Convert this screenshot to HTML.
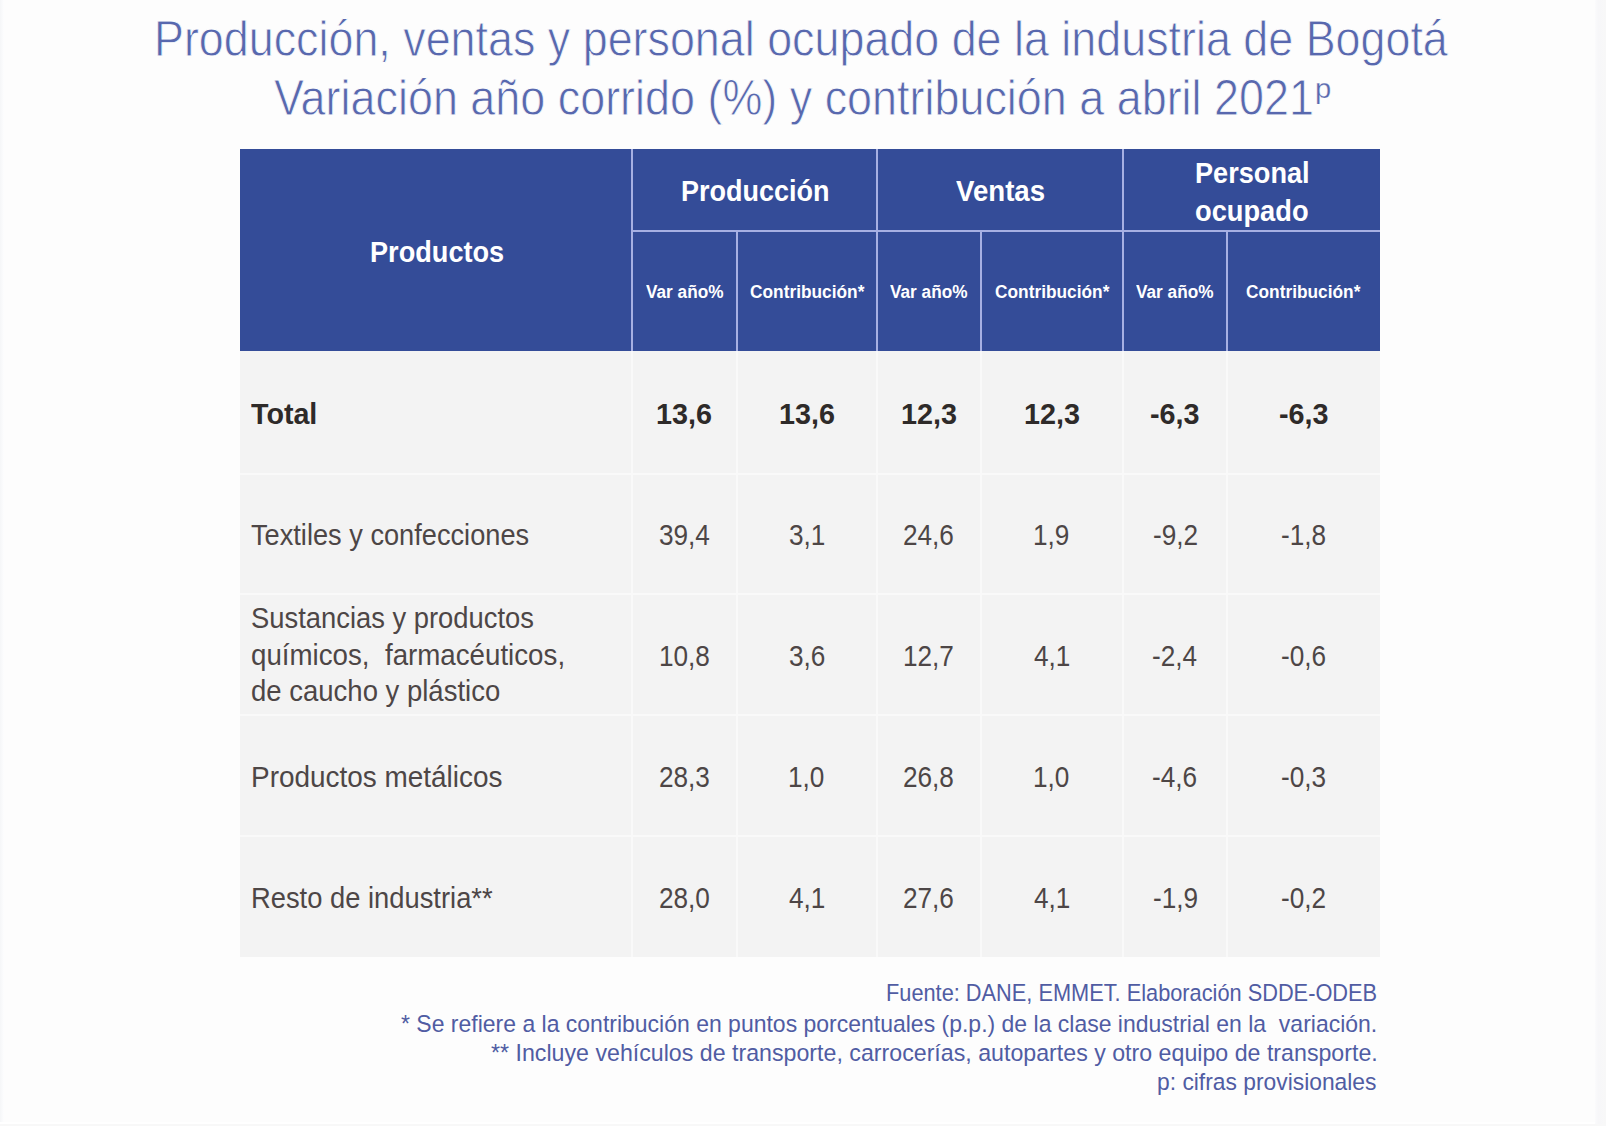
<!DOCTYPE html>
<html><head><meta charset="utf-8"><title>Producción, ventas y personal ocupado de la industria de Bogotá</title>
<style>
html,body{margin:0;padding:0;}
body{width:1606px;height:1126px;position:relative;overflow:hidden;background:#fdfdfd;font-family:"Liberation Sans",Arial,sans-serif;}
.t{position:absolute;white-space:nowrap;transform-origin:0 0;font-weight:400;}
.b{font-weight:700;}
</style></head><body>
<div style="position:absolute;left:240px;top:149px;width:1140px;height:202px;background:#344c98"></div>
<div style="position:absolute;left:240px;top:351px;width:1140px;height:606px;background:#f3f3f3"></div>
<div style="position:absolute;left:631px;top:149px;width:2px;height:202px;background:#a7b0e3"></div>
<div style="position:absolute;left:736px;top:230px;width:2px;height:121px;background:#a7b0e3"></div>
<div style="position:absolute;left:876px;top:149px;width:2px;height:202px;background:#a7b0e3"></div>
<div style="position:absolute;left:980px;top:230px;width:2px;height:121px;background:#a7b0e3"></div>
<div style="position:absolute;left:1122px;top:149px;width:2px;height:202px;background:#a7b0e3"></div>
<div style="position:absolute;left:1226px;top:230px;width:2px;height:121px;background:#a7b0e3"></div>
<div style="position:absolute;left:632px;top:230px;width:748px;height:2px;background:#a7b0e3"></div>
<div style="position:absolute;left:631px;top:351px;width:2px;height:606px;background:#f9f9f9"></div>
<div style="position:absolute;left:736px;top:351px;width:2px;height:606px;background:#f9f9f9"></div>
<div style="position:absolute;left:876px;top:351px;width:2px;height:606px;background:#f9f9f9"></div>
<div style="position:absolute;left:980px;top:351px;width:2px;height:606px;background:#f9f9f9"></div>
<div style="position:absolute;left:1122px;top:351px;width:2px;height:606px;background:#f9f9f9"></div>
<div style="position:absolute;left:1226px;top:351px;width:2px;height:606px;background:#f9f9f9"></div>
<div style="position:absolute;left:240px;top:473px;width:1140px;height:2px;background:#f9f9f9"></div>
<div style="position:absolute;left:240px;top:593px;width:1140px;height:2px;background:#f9f9f9"></div>
<div style="position:absolute;left:240px;top:714px;width:1140px;height:2px;background:#f9f9f9"></div>
<div style="position:absolute;left:240px;top:835px;width:1140px;height:2px;background:#f9f9f9"></div>
<div style="position:absolute;left:0;top:0;width:4px;height:1126px;background:linear-gradient(to right,#f5f6f8,#f9fafb 50%,#fdfdfe)"></div>
<div style="position:absolute;left:0;top:1122px;width:1595px;height:2px;background:#fff"></div>
<div style="position:absolute;left:1595px;top:0;width:11px;height:1126px;background:linear-gradient(to right,#fbfbfc,#f7f7f9 30%,#f8f8f8)"></div>
<div style="position:absolute;left:0;top:1124px;width:1606px;height:2px;background:#f8f8f8"></div>
<div class="t" style="left:154.03px;top:13.66px;font-size:50.29px;line-height:50.29px;transform:scaleX(0.8918);color:#5868ae;-webkit-text-stroke:0.8px #fdfdfd;">Producción, ventas y personal ocupado de la industria de Bogotá</div>
<div class="t" style="left:274.08px;top:72.66px;font-size:50.29px;line-height:50.29px;transform:scaleX(0.8930);color:#5868ae;-webkit-text-stroke:0.8px #fdfdfd;">Variación año corrido (%) y contribución a abril 2021</div>
<div class="t" style="left:1315.15px;top:74.69px;font-size:27.63px;line-height:27.63px;transform:scaleX(1.0560);color:#5868ae;-webkit-text-stroke:0.25px #fdfdfd;">p</div>
<div class="t b" style="left:369.93px;top:237.77px;font-size:29.07px;line-height:29.07px;transform:scaleX(0.9338);color:#fff;">Productos</div>
<div class="t b" style="left:680.87px;top:175.75px;font-size:29.51px;line-height:29.51px;transform:scaleX(0.9148);color:#fff;">Producción</div>
<div class="t b" style="left:955.87px;top:175.94px;font-size:29.51px;line-height:29.51px;transform:scaleX(0.9365);color:#fff;">Ventas</div>
<div class="t b" style="left:1194.76px;top:158.34px;font-size:29.51px;line-height:29.51px;transform:scaleX(0.9201);color:#fff;">Personal</div>
<div class="t b" style="left:1194.54px;top:195.55px;font-size:29.51px;line-height:29.51px;transform:scaleX(0.9242);color:#fff;">ocupado</div>
<div class="t b" style="left:645.77px;top:283.27px;font-size:18.46px;line-height:18.46px;transform:scaleX(0.9333);color:#fff;">Var año%</div>
<div class="t b" style="left:749.50px;top:283.27px;font-size:18.46px;line-height:18.46px;transform:scaleX(0.9388);color:#fff;">Contribución*</div>
<div class="t b" style="left:890.27px;top:283.27px;font-size:18.46px;line-height:18.46px;transform:scaleX(0.9333);color:#fff;">Var año%</div>
<div class="t b" style="left:994.50px;top:283.27px;font-size:18.46px;line-height:18.46px;transform:scaleX(0.9388);color:#fff;">Contribución*</div>
<div class="t b" style="left:1136.27px;top:283.27px;font-size:18.46px;line-height:18.46px;transform:scaleX(0.9333);color:#fff;">Var año%</div>
<div class="t b" style="left:1246.00px;top:283.27px;font-size:18.46px;line-height:18.46px;transform:scaleX(0.9388);color:#fff;">Contribución*</div>
<div class="t b" style="left:251.25px;top:400.26px;font-size:29.07px;line-height:29.07px;transform:scaleX(0.9862);color:#2e2a29;">Total</div>
<div class="t b" style="left:656.16px;top:400.26px;font-size:29.07px;line-height:29.07px;transform:scaleX(0.9900);color:#2e2a29;">13,6</div>
<div class="t b" style="left:778.66px;top:400.26px;font-size:29.07px;line-height:29.07px;transform:scaleX(0.9900);color:#2e2a29;">13,6</div>
<div class="t b" style="left:900.66px;top:400.26px;font-size:29.07px;line-height:29.07px;transform:scaleX(0.9900);color:#2e2a29;">12,3</div>
<div class="t b" style="left:1023.66px;top:400.26px;font-size:29.07px;line-height:29.07px;transform:scaleX(0.9900);color:#2e2a29;">12,3</div>
<div class="t b" style="left:1150.25px;top:400.26px;font-size:29.07px;line-height:29.07px;transform:scaleX(0.9900);color:#2e2a29;">-6,3</div>
<div class="t b" style="left:1278.75px;top:400.26px;font-size:29.07px;line-height:29.07px;transform:scaleX(0.9900);color:#2e2a29;">-6,3</div>
<div class="t" style="left:251.40px;top:520.67px;font-size:29.07px;line-height:29.07px;transform:scaleX(0.9357);color:#4d4646;">Textiles y confecciones</div>
<div class="t" style="left:658.85px;top:520.67px;font-size:29.07px;line-height:29.07px;transform:scaleX(0.9000);color:#4d4646;">39,4</div>
<div class="t" style="left:788.89px;top:520.67px;font-size:29.07px;line-height:29.07px;transform:scaleX(0.9000);color:#4d4646;">3,1</div>
<div class="t" style="left:903.35px;top:520.67px;font-size:29.07px;line-height:29.07px;transform:scaleX(0.9000);color:#4d4646;">24,6</div>
<div class="t" style="left:1033.44px;top:520.67px;font-size:29.07px;line-height:29.07px;transform:scaleX(0.9000);color:#4d4646;">1,9</div>
<div class="t" style="left:1152.50px;top:520.67px;font-size:29.07px;line-height:29.07px;transform:scaleX(0.9000);color:#4d4646;">-9,2</div>
<div class="t" style="left:1280.89px;top:520.67px;font-size:29.07px;line-height:29.07px;transform:scaleX(0.9000);color:#4d4646;">-1,8</div>
<div class="t" style="left:251.12px;top:604.47px;font-size:29.07px;line-height:29.07px;transform:scaleX(0.9418);color:#4d4646;">Sustancias y productos</div>
<div class="t" style="left:251.11px;top:640.97px;font-size:29.07px;line-height:29.07px;transform:scaleX(0.9532);color:#4d4646;">químicos,&nbsp; farmacéuticos,</div>
<div class="t" style="left:251.12px;top:676.97px;font-size:29.07px;line-height:29.07px;transform:scaleX(0.9464);color:#4d4646;">de caucho y plástico</div>
<div class="t" style="left:658.51px;top:641.87px;font-size:29.07px;line-height:29.07px;transform:scaleX(0.9000);color:#4d4646;">10,8</div>
<div class="t" style="left:788.77px;top:641.87px;font-size:29.07px;line-height:29.07px;transform:scaleX(0.9000);color:#4d4646;">3,6</div>
<div class="t" style="left:903.12px;top:641.87px;font-size:29.07px;line-height:29.07px;transform:scaleX(0.9000);color:#4d4646;">12,7</div>
<div class="t" style="left:1034.11px;top:641.87px;font-size:29.07px;line-height:29.07px;transform:scaleX(0.9000);color:#4d4646;">4,1</div>
<div class="t" style="left:1152.28px;top:641.87px;font-size:29.07px;line-height:29.07px;transform:scaleX(0.9000);color:#4d4646;">-2,4</div>
<div class="t" style="left:1280.89px;top:641.87px;font-size:29.07px;line-height:29.07px;transform:scaleX(0.9000);color:#4d4646;">-0,6</div>
<div class="t" style="left:250.94px;top:762.97px;font-size:29.07px;line-height:29.07px;transform:scaleX(0.9609);color:#4d4646;">Productos metálicos</div>
<div class="t" style="left:658.85px;top:762.97px;font-size:29.07px;line-height:29.07px;transform:scaleX(0.9000);color:#4d4646;">28,3</div>
<div class="t" style="left:788.33px;top:762.97px;font-size:29.07px;line-height:29.07px;transform:scaleX(0.9000);color:#4d4646;">1,0</div>
<div class="t" style="left:903.35px;top:762.97px;font-size:29.07px;line-height:29.07px;transform:scaleX(0.9000);color:#4d4646;">26,8</div>
<div class="t" style="left:1033.32px;top:762.97px;font-size:29.07px;line-height:29.07px;transform:scaleX(0.9000);color:#4d4646;">1,0</div>
<div class="t" style="left:1152.39px;top:762.97px;font-size:29.07px;line-height:29.07px;transform:scaleX(0.9000);color:#4d4646;">-4,6</div>
<div class="t" style="left:1280.89px;top:762.97px;font-size:29.07px;line-height:29.07px;transform:scaleX(0.9000);color:#4d4646;">-0,3</div>
<div class="t" style="left:250.88px;top:884.07px;font-size:29.07px;line-height:29.07px;transform:scaleX(0.9406);color:#4d4646;">Resto de industria**</div>
<div class="t" style="left:658.85px;top:884.07px;font-size:29.07px;line-height:29.07px;transform:scaleX(0.9000);color:#4d4646;">28,0</div>
<div class="t" style="left:789.11px;top:884.07px;font-size:29.07px;line-height:29.07px;transform:scaleX(0.9000);color:#4d4646;">4,1</div>
<div class="t" style="left:903.35px;top:884.07px;font-size:29.07px;line-height:29.07px;transform:scaleX(0.9000);color:#4d4646;">27,6</div>
<div class="t" style="left:1034.11px;top:884.07px;font-size:29.07px;line-height:29.07px;transform:scaleX(0.9000);color:#4d4646;">4,1</div>
<div class="t" style="left:1152.50px;top:884.07px;font-size:29.07px;line-height:29.07px;transform:scaleX(0.9000);color:#4d4646;">-1,9</div>
<div class="t" style="left:1281.00px;top:884.07px;font-size:29.07px;line-height:29.07px;transform:scaleX(0.9000);color:#4d4646;">-0,2</div>
<div class="t" style="left:885.53px;top:982.47px;font-size:23.26px;line-height:23.26px;transform:scaleX(0.9361);color:#505ca3;">Fuente: DANE, EMMET. Elaboración SDDE-ODEB</div>
<div class="t" style="left:401.21px;top:1012.57px;font-size:23.26px;line-height:23.26px;transform:scaleX(0.9887);color:#505ca3;">* Se refiere a la contribución en puntos porcentuales (p.p.) de la clase industrial en la&nbsp; variación.</div>
<div class="t" style="left:490.70px;top:1041.97px;font-size:23.26px;line-height:23.26px;transform:scaleX(0.9973);color:#505ca3;">** Incluye vehículos de transporte, carrocerías, autopartes y otro equipo de transporte.</div>
<div class="t" style="left:1156.93px;top:1071.37px;font-size:23.26px;line-height:23.26px;transform:scaleX(0.9817);color:#505ca3;">p: cifras provisionales</div>
</body></html>
